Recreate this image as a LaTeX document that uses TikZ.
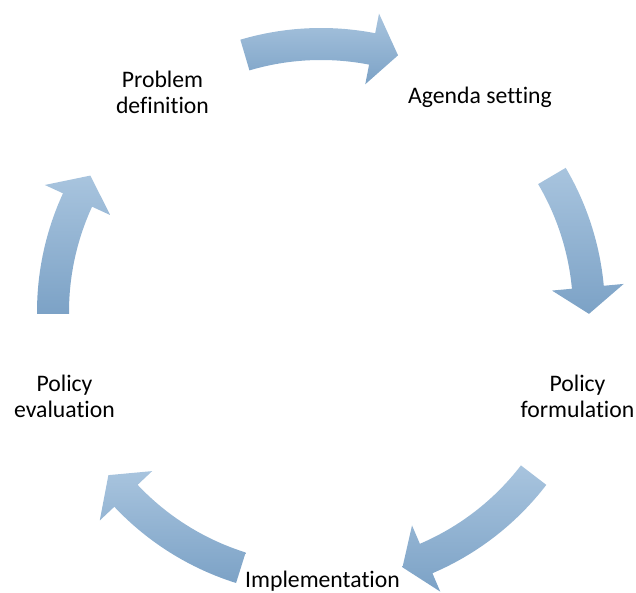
\documentclass[tikz,border=0pt]{standalone}
\usepackage{fontspec}
\setmainfont{Carlito}[Ligatures={NoCommon}]
\definecolor{arrowtop}{HTML}{A8C4DE}
\definecolor{arrowbot}{HTML}{7CA2C6}
\tikzset{
  cyclearrow/.style={top color=arrowtop, bottom color=arrowbot, draw=none},
  cyctext/.style={inner sep=0pt, anchor=base, text=black,
    font=\fontsize{23.7}{26}\selectfont}
}
% #1 tail angle, #2 head-base angle, #3 tip angle
\newcommand{\cyclearrowpath}[3]{%
  \shade[cyclearrow] (#1:284pt) arc[start angle=#1, end angle=#2, radius=284pt]
    -- (#2:304pt) -- (#3:268pt) -- (#2:232pt) -- (#2:252pt)
    arc[start angle=#2, end angle=#1, radius=252pt] -- cycle;}
\begin{document}
\begin{tikzpicture}[x=1pt,y=1pt]
\useasboundingbox (0,0) rectangle (636,592);
\begin{scope}[shift={(321,280)}]
  \cyclearrowpath{106.5}{79}{73.3}
  \cyclearrowpath{30.5}{5.3}{-0.4}
  \cyclearrowpath{-37.5}{-66.9}{-72.3}
  \cyclearrowpath{-107.4}{-136.7}{-142.5}
  \cyclearrowpath{180.4}{155.3}{149.4}
\end{scope}
\node[cyctext] (problem) at (162.5,504.7) {\begin{tabular}[t]{@{}c@{}}Problem\\definition\end{tabular}};
\node[cyctext] (agenda) at (480,488.7) {Agenda setting};
\node[cyctext] (formulation) at (577.5,200.5) {\begin{tabular}[t]{@{}c@{}}Policy\\formulation\end{tabular}};
\node[cyctext] (implementation) at (322.5,4.7) {Implementation};
\node[cyctext] (evaluation) at (64.5,200.5) {\begin{tabular}[t]{@{}c@{}}Policy\\evaluation\end{tabular}};
\end{tikzpicture}
\end{document}
